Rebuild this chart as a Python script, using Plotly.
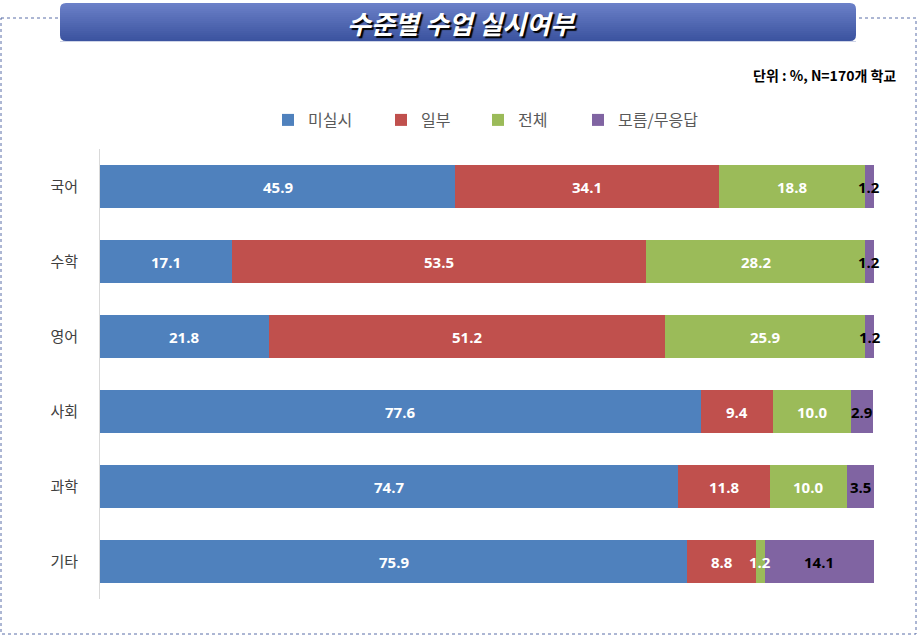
import plotly.graph_objects as go

subjects = ["국어", "수학", "영어", "사회", "과학", "기타"]
series = ["미실시", "일부", "전체", "모름/무응답"]
none_vals = [45.9, 17.1, 21.8, 77.6, 74.7, 75.9]
part_vals = [34.1, 53.5, 51.2, 9.4, 11.8, 8.8]
all_vals = [18.8, 28.2, 25.9, 10.0, 10.0, 1.2]
dk_vals = [1.2, 1.2, 1.2, 2.9, 3.5, 14.1]

colors = ["#4F81BD", "#C0504D", "#9BBB59", "#8064A2"]
label_colors = ["white", "white", "white", "black"]

W, H = 917, 635
L, R, T, B = 100, 43, 149, 36
pw, ph = W - L - R, H - T - B


def px(x):
    return (x - L) / pw


def py(y):
    return (H - B - y) / ph


fig = go.Figure()
annotations = []
legend_ids = ["legend", "legend2", "legend3", "legend4"]
legend_x = [268, 381, 478, 578]
base = [0.0] * len(subjects)
for name, vals, c, lc, lg in zip(series, [none_vals, part_vals, all_vals, dk_vals],
                                 colors, label_colors, legend_ids):
    fig.add_trace(go.Bar(
        y=subjects, x=vals, name=name, orientation="h", legend=lg,
        marker=dict(color=c, line=dict(width=0)),
    ))
    # value labels centred on each segment (not clipped to the bar)
    for i, v in enumerate(vals):
        annotations.append(dict(
            x=base[i] + v / 2, y=subjects[i], xref="x", yref="y",
            text=f"<b>{v:.1f}</b>", showarrow=False,
            xanchor="center", yanchor="middle",
            font=dict(family="Open Sans", size=15, color=lc),
        ))
        base[i] += v

shapes = []
# dotted frame
shapes.append(dict(type="rect", xref="paper", yref="paper",
                   x0=px(1), x1=px(916), y0=py(18), y1=py(634),
                   line=dict(color="#5A6FA8", width=1, dash="dot"), layer="below"))
# title box gradient
top_c = (0x6B, 0x80, 0xC8)
bot_c = (0x3C, 0x54, 0xA0)
y_top, y_bot = 3, 41
n = 19
for i in range(n):
    t = i / (n - 1)
    c = tuple(int(top_c[k] + (bot_c[k] - top_c[k]) * t) for k in range(3))
    ya = y_top + (y_bot - y_top) * i / n
    yb = y_top + (y_bot - y_top) * (i + 1) / n
    shapes.append(dict(type="rect", xref="paper", yref="paper",
                       x0=px(60), x1=px(856), y0=py(yb + 0.3), y1=py(ya),
                       fillcolor="rgb(%d,%d,%d)" % c, line=dict(width=0)))
# rounded corners (white masks)
r = 6
for cx, cy, dx, dy in [(60, 3, 1, 1), (856, 3, -1, 1), (60, 41, 1, -1), (856, 41, -1, -1)]:
    path = "M %f,%f L %f,%f Q %f,%f %f,%f Z" % (
        px(cx), py(cy), px(cx + dx * r), py(cy), px(cx), py(cy), px(cx), py(cy + dy * r))
    shapes.append(dict(type="path", xref="paper", yref="paper", path=path,
                       fillcolor="white", line=dict(width=0)))

annotations += [
    dict(text="수준별 수업 실시여부", xref="paper", yref="paper",
         x=px(461), y=py(22), xanchor="center", yanchor="middle", showarrow=False,
         font=dict(family="Noto Sans CJK KR", size=26, color="white", weight="bold",
                   style="italic", shadow="2px 2px 1px #000000")),
    dict(text="<b>단위 : %, N=170개 학교</b>", xref="paper", yref="paper",
         x=px(898), y=py(75), xanchor="right", yanchor="middle", showarrow=False,
         font=dict(family="Noto Sans CJK KR", size=14, color="black")),
]

legends = {}
for lg, lx in zip(legend_ids, legend_x):
    legends[lg] = dict(orientation="h", x=px(lx), xanchor="left", y=py(120), yanchor="middle",
                       font=dict(size=16, color="#595959"), itemwidth=30,
                       bgcolor="rgba(0,0,0,0)")

fig.update_layout(
    width=W, height=H,
    margin=dict(l=L, r=R, t=T, b=B),
    paper_bgcolor="white", plot_bgcolor="white",
    barmode="stack", bargap=0.42,
    font=dict(family="Noto Sans CJK KR", color="#404040"),
    showlegend=True,
    xaxis=dict(range=[0, 100], showticklabels=False, showgrid=False, zeroline=False,
               showline=False, fixedrange=True),
    yaxis=dict(autorange="reversed", showgrid=False, zeroline=False,
               showline=True, linecolor="#D9D9D9", linewidth=1,
               tickfont=dict(size=15, color="#404040"), ticks="", ticklabelstandoff=18),
    shapes=shapes,
    annotations=annotations,
    **legends,
)

fig.write_html("out.html", config={"displayModeBar": False},
               post_script="document.body.style.margin='0px';")
